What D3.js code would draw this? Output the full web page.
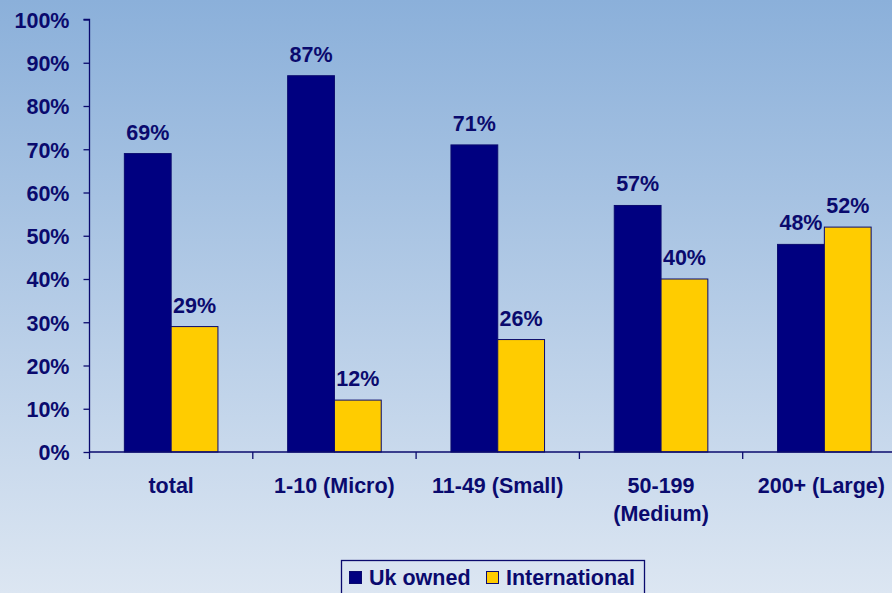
<!DOCTYPE html>
<html>
<head>
<meta charset="utf-8">
<script src="https://cdnjs.cloudflare.com/ajax/libs/d3/7.8.5/d3.min.js"></script>
<style>
  html, body { margin: 0; padding: 0; }
  svg { display: block; }
  text { font-family: "Liberation Sans", Arial, sans-serif; font-weight: bold; fill: #0a0a6e; }
</style>
</head>
<body>
<svg id="chart" width="892" height="593"></svg>
<script>
const categories = [["total"], ["1-10 (Micro)"], ["11-49 (Small)"], ["50-199", "(Medium)"], ["200+ (Large)"]];
const seriesNames = ["Uk owned", "International"];
const ukOwned = [69, 87, 71, 57, 48];
const international = [29, 12, 26, 40, 52];
const yTicks = [0, 10, 20, 30, 40, 50, 60, 70, 80, 90, 100];
const colors = ["#000080", "#FFCC00"];

const W = 892, H = 593;
const FS = 21.5;
const svg = d3.select("#chart");

// background gradient
const defs = svg.append("defs");
const grad = defs.append("linearGradient").attr("id", "bg").attr("x1", 0).attr("y1", 0).attr("x2", 0).attr("y2", 1);
grad.append("stop").attr("offset", "0%").attr("stop-color", "#8bb0da");
grad.append("stop").attr("offset", "100%").attr("stop-color", "#dce6f2");
svg.append("rect").attr("width", W).attr("height", H).attr("fill", "url(#bg)");

const x0 = 89.5, band = 163.3;
const x = d3.scaleBand().domain(d3.range(categories.length)).range([x0, x0 + band * categories.length]).paddingInner(0).paddingOuter(0);
const xs = d3.scaleBand().domain([0, 1]).range([0, band]).paddingInner(0).paddingOuter(0.745);
const y = d3.scaleLinear().domain([0, 100]).range([452, 19.5]);

// y axis
const yAxis = d3.axisLeft(y).tickValues(yTicks).tickFormat(d => d + "%").tickSize(6).tickPadding(14);
const gy = svg.append("g").attr("transform", `translate(${x0},0)`).call(yAxis);
gy.select(".domain").attr("stroke", "#0a0a6e").attr("stroke-width", 1.3).attr("d", `M-6,${y(100)}H0V${y(0)}`);
gy.selectAll(".tick line").attr("stroke", "#0a0a6e").attr("stroke-width", 1.3);
gy.selectAll(".tick text").attr("font-size", FS).attr("fill", "#0a0a6e").attr("dy", "0.36em");

// bars
const series = [ukOwned, international];
series.forEach((vals, s) => {
  svg.append("g").selectAll("rect").data(vals).join("rect")
    .attr("x", (d, i) => x(i) + xs(s))
    .attr("y", d => y(d))
    .attr("width", xs.bandwidth())
    .attr("height", d => y(0) - y(d))
    .attr("fill", colors[s])
    .attr("stroke", "#0a0a6e")
    .attr("stroke-width", 1);
  svg.append("g").selectAll("text").data(vals).join("text")
    .attr("x", (d, i) => x(i) + xs(s) + xs.bandwidth() / 2)
    .attr("y", d => y(d) - 14)
    .attr("text-anchor", "middle")
    .attr("font-size", FS)
    .text(d => d + "%");
});

// x axis
const gx = svg.append("g").attr("transform", `translate(0,${y(0)})`);
gx.append("line").attr("x1", x0).attr("x2", W).attr("stroke", "#0a0a6e").attr("stroke-width", 1.3);
const boundaries = d3.range(categories.length + 1).map(i => x0 + band * i);
gx.selectAll("line.tick").data(boundaries).join("line").attr("class", "tick")
  .attr("x1", d => d).attr("x2", d => d).attr("y1", 0).attr("y2", 7)
  .attr("stroke", "#0a0a6e").attr("stroke-width", 1.3);
gx.selectAll("text.cat").data(categories).join("text").attr("class", "cat")
  .attr("text-anchor", "middle")
  .attr("font-size", FS)
  .attr("y", 41)
  .each(function(d, i) {
    const t = d3.select(this);
    t.selectAll("tspan").data(d).join("tspan")
      .attr("dy", (s, j) => j === 0 ? 0 : 28)
      .text(s => s);
    // keep each label inside the drawing area
    const w = this.getBBox().width;
    const cx = Math.min(x(i) + band / 2, W - 7 - w / 2);
    t.attr("x", cx);
    t.selectAll("tspan").attr("x", cx);
  });

// legend
const lg = svg.append("g");
lg.append("rect").attr("x", 341.5).attr("y", 560.5).attr("width", 303).attr("height", 40)
  .attr("fill", "none").attr("stroke", "#0a0a6e").attr("stroke-width", 1.3);
const items = [{ name: seriesNames[0], x: 349 }, { name: seriesNames[1], x: 486 }];
items.forEach((it, i) => {
  lg.append("rect").attr("x", it.x + 0.5).attr("y", 571.5).attr("width", 12).attr("height", 12)
    .attr("fill", colors[i]).attr("stroke", "#0a0a6e").attr("stroke-width", 1);
  lg.append("text").attr("x", it.x + 20).attr("y", 585).attr("font-size", FS).text(it.name);
});
</script>
</body>
</html>
